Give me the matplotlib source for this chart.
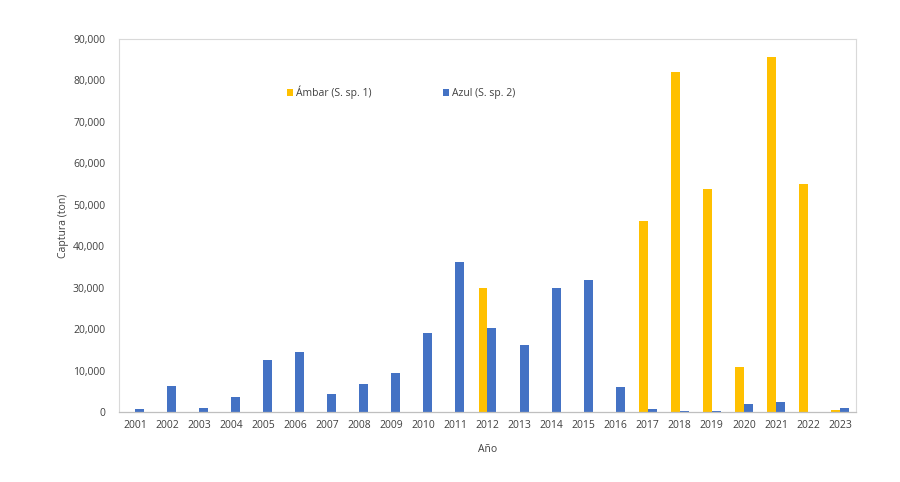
import matplotlib
matplotlib.use("Agg")
import matplotlib.pyplot as plt
import numpy as np

plt.rcParams['font.family'] = ['Open Sans', 'DejaVu Sans']

# Data
years = [str(y) for y in range(2001, 2024)]
ambar = [0, 0, 0, 0, 0, 0, 0, 0, 0, 0, 0, 29900, 0, 0, 0, 0,
         46100, 82000, 53800, 10900, 85700, 55000, 500]
azul = [800, 6200, 1000, 3600, 12500, 14500, 4300, 6700, 9500, 19000, 36100,
        20300, 16200, 29900, 31800, 6000, 800, 300, 300, 2000, 2500, 0, 1000]
yticks = list(range(0, 90001, 10000))

amber_color = '#FFC000'
blue_color = '#4472C4'

fig = plt.figure(figsize=(9, 4.82), dpi=100)
ax = fig.add_axes([119 / 900, 1 - 412 / 482, (856 - 119) / 900, (412 - 39) / 482])

x = np.arange(len(years))
w = 0.28
ax.bar(x - w / 2, ambar, width=w, color=amber_color, label='Ámbar (S. sp. 1)')
ax.bar(x + w / 2, azul, width=w, color=blue_color, label='Azul (S. sp. 2)')

ax.set_xlim(-0.5, len(years) - 0.5)
ax.set_ylim(0, 90000)
ax.set_xticks(x)
ax.set_xticklabels(years)
ax.set_yticks(yticks)
ax.set_yticklabels([f'{v:,}' for v in yticks])
ax.tick_params(axis='both', length=0, labelsize=7.5, colors='#404040')
ax.tick_params(axis='y', pad=10)
ax.tick_params(axis='x', pad=6)

for side in ['top', 'right', 'left']:
    ax.spines[side].set_color('#D9D9D9')
    ax.spines[side].set_linewidth(0.8)
ax.spines['bottom'].set_color('#BFBFBF')
ax.spines['bottom'].set_linewidth(0.9)

ax.set_xlabel('Año', fontsize=7.5, color='#404040', labelpad=9)
ax.set_ylabel('Captura (ton)', fontsize=7.5, color='#404040', labelpad=3)

ax.legend(loc='upper left', bbox_to_anchor=(0.215, 0.90), ncol=2, frameon=False,
          fontsize=7.5, handlelength=0.6, handleheight=0.6, handletextpad=0.3,
          columnspacing=6.8, labelcolor='#404040')

fig.savefig('out.png', dpi=100, facecolor='white')
